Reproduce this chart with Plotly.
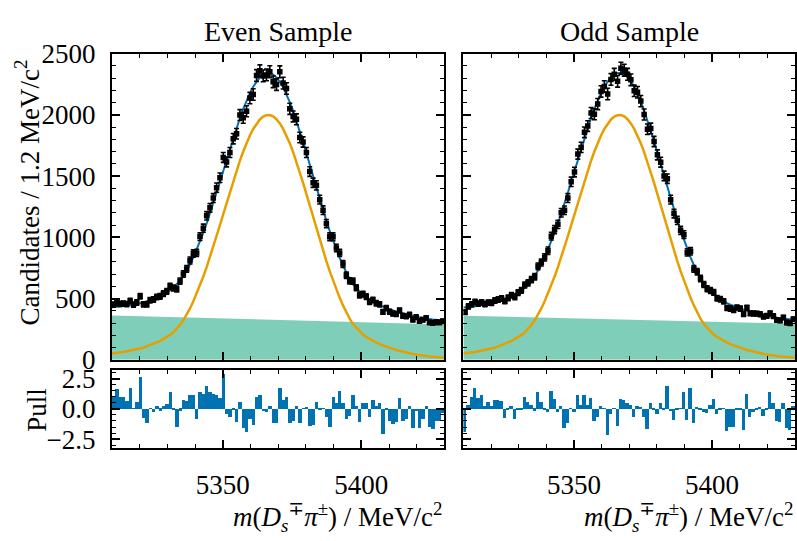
import numpy as np
import plotly.graph_objects as go

# ---------------- data ----------------
mass_lo, mass_hi, n_bins = 5310.0, 5430.0, 100
bin_width = (mass_hi - mass_lo) / n_bins
bin_centers = mass_lo + bin_width * (np.arange(n_bins) + 0.5)

even_counts = [450, 465, 456, 459, 455, 481, 451, 468, 519, 453,
               452, 487, 492, 513, 518, 540, 559, 600, 586, 579,
               643, 701, 742, 811, 868, 873, 1006, 1075, 1176, 1241,
               1321, 1406, 1487, 1653, 1616, 1693, 1806, 1846, 1999, 1977,
               2030, 2138, 2167, 2322, 2360, 2319, 2327, 2353, 2271, 2248,
               2352, 2260, 2216, 2050, 1988, 1964, 1816, 1779, 1693, 1537,
               1446, 1425, 1308, 1222, 1113, 1005, 1005, 913, 873, 782,
               690, 644, 643, 589, 528, 537, 516, 474, 488, 462,
               453, 391, 422, 392, 377, 373, 402, 359, 355, 368,
               328, 348, 317, 326, 341, 305, 300, 307, 305, 314]

odd_counts = [389, 436, 453, 473, 459, 469, 454, 467, 466, 484,
              493, 500, 479, 506, 527, 514, 549, 567, 611, 629,
              655, 679, 763, 794, 836, 891, 1010, 1063, 1106, 1201,
              1221, 1321, 1454, 1533, 1680, 1735, 1858, 1909, 2016, 2005,
              2089, 2192, 2232, 2171, 2290, 2332, 2275, 2382, 2366, 2332,
              2287, 2197, 2185, 2113, 2004, 1883, 1890, 1783, 1674, 1614,
              1502, 1479, 1308, 1194, 1139, 1057, 1022, 877, 886, 742,
              719, 664, 615, 580, 566, 550, 502, 494, 477, 423,
              418, 406, 427, 418, 374, 425, 379, 378, 377, 372,
              353, 359, 379, 356, 325, 320, 345, 304, 298, 331]

even_pull = [1.0, 1.6, 1.0, 1.0, 0.6, 1.7, 0.05, 0.55, 2.65, -0.75,
             -1.2, 0.05, -0.25, 0.2, -0.15, 0.2, 0.4, 1.4, -0.1, -1.5,
             -0.15, 0.7, 0.65, 1.15, 1.1, -0.85, 1.35, 1.2, 1.9, 1.4,
             1.25, 1.15, 0.9, 2.85, -0.4, -0.7, -0.1, -1.1, 0.55, -1.6,
             -1.9, -0.85, -1.35, 1.0, 1.1, -0.2, -0.3, 0.25, -1.2, -1.2,
             1.7, 0.75, 1.0, -1.2, -1.0, 0.25, -1.2, 0.02, 0.15, -1.4,
             -1.35, 0.55, -0.1, -0.02, -0.65, -1.5, 1.0, 0.45, 1.45, 0.45,
             -0.85, -0.6, 1.1, 0.2, -1.1, 0.45, 0.45, -0.7, 0.75, 0.2,
             0.45, -2.05, -0.05, -1.0, -1.3, -1.1, 0.85, -1.0, -0.85, 0.2,
             -1.6, -0.2, -1.6, -0.85, 0.2, -1.55, -1.65, -1.05, -1.0, -0.35]

odd_pull = [-1.9, 0.3, 0.95, 1.7, 0.85, 1.15, 0.2, 0.55, 0.2, 0.75,
            0.75, 0.65, -0.8, -0.1, 0.25, -0.85, -0.05, -0.05, 0.95, 0.55,
            0.3, -0.15, 1.4, 0.55, -0.05, -0.25, 1.45, 0.8, -0.25, 0.2,
            -1.6, -1.2, 0.05, -0.25, 1.15, 0.3, 1.1, 0.3, 0.9, -1.0,
            -0.65, 0.25, 0.05, -2.2, -0.4, 0.05, -1.4, 0.8, 0.7, 0.5,
            0.3, -0.65, 0.25, 0.1, -0.7, -1.65, 0.45, -0.05, -0.4, 0.45,
            -0.05, 1.9, -0.2, -0.9, -0.1, 0.05, 1.4, -0.9, 1.7, -1.15,
            0.1, -0.05, -0.25, -0.35, 0.3, 0.8, -0.4, -0.1, 0.05, -1.85,
            -1.5, -1.55, -0.1, -0.05, -1.75, 1.25, -0.65, -0.3, -0.1, 0.1,
            -0.6, -0.05, 1.4, 0.45, -1.05, -1.1, 0.5, -1.6, -1.75, 0.2]

# signal fit component at the bin centres (plus values at the range edges)
signal_edges = [52, 16]
signal_curve = [53, 56, 60, 64, 69, 73.5, 79, 85, 92, 99,
                108.5, 118.6, 129.6, 141.7, 155, 169, 185, 203, 225, 253,
                285, 322, 365, 419, 477, 540, 607, 680, 757, 838,
                923, 1010, 1100, 1190, 1281, 1371, 1460, 1545, 1626, 1701,
                1770, 1832, 1885, 1929, 1963, 1986, 1998, 1999, 1988, 1965,
                1931, 1886, 1832, 1768, 1696, 1617, 1533, 1445, 1353, 1260,
                1166, 1073, 981, 892, 806, 724, 646, 573, 506, 444,
                387, 335, 293, 261, 232, 206, 185.5, 169, 153, 140,
                127, 116, 106, 97, 88.6, 80, 72.7, 65.7, 59.4, 53.2,
                47.8, 42.9, 37.6, 33.6, 29.9, 26.6, 23.6, 21, 18.9, 17]

# linear combinatorial background at the range edges
bkg_even = [362, 288]
bkg_odd = [360, 295]
other_level = 15  # small extra component included in the total fit only

x_ticks = [5350, 5400]
panel_titles = ["Even Sample", "Odd Sample"]

# ---------------- styling ----------------
FONT = "Liberation Serif, DejaVu Serif, serif"
FS = 27
C_TOTAL = "#0072B2"
C_SIG = "#E69F00"
C_BKG = "rgba(0,158,115,0.5)"
C_PULL = "#0072B2"

W, H = 797, 541
col_px = [(112, 445), (464, 796)]
top_px = (41, 365)
pull_px = (376, 458)


def xd(a, b):
    return [a / W, b / W]


def yd(t, b):
    return [1 - b / H, 1 - t / H]


fig = go.Figure()
layout = dict(
    width=W, height=H, margin=dict(l=0, r=0, t=0, b=0),
    paper_bgcolor="white", plot_bgcolor="white",
    showlegend=False, bargap=0,
    font=dict(family=FONT, size=FS, color="black"),
)

axis_common = dict(
    showline=True, linecolor="black", linewidth=2, mirror="allticks",
    ticks="inside", ticklen=8, tickwidth=1.5, tickcolor="black",
    showgrid=False, zeroline=False,
    tickfont=dict(family=FONT, size=FS, color="black"),
)

samples = [(even_counts, even_pull, bkg_even), (odd_counts, odd_pull, bkg_odd)]
curve_x = np.concatenate([[mass_lo], bin_centers, [mass_hi]])
sig_full = np.array([signal_edges[0]] + signal_curve + [signal_edges[1]])

for k, (counts, pulls, bkg) in enumerate(samples):
    xa_top = f"x{2*k+1}"
    ya_top = f"y{2*k+1}"
    xa_pull = f"x{2*k+2}"
    ya_pull = f"y{2*k+2}"
    counts = np.array(counts, dtype=float)
    bkg_curve = np.interp(curve_x, [mass_lo, mass_hi], bkg)
    total_curve = bkg_curve + sig_full + other_level

    fig.add_trace(go.Scatter(x=[mass_lo, mass_hi], y=bkg, mode="lines",
                             line=dict(width=0, color=C_BKG), fill="tozeroy",
                             fillcolor=C_BKG, xaxis=xa_top, yaxis=ya_top,
                             hoverinfo="skip"))
    fig.add_trace(go.Scatter(x=curve_x, y=sig_full, mode="lines",
                             line=dict(width=2.5, color=C_SIG),
                             xaxis=xa_top, yaxis=ya_top))
    fig.add_trace(go.Scatter(x=curve_x, y=total_curve, mode="lines",
                             line=dict(width=2, color=C_TOTAL),
                             xaxis=xa_top, yaxis=ya_top))
    fig.add_trace(go.Scatter(x=bin_centers, y=counts, mode="markers",
                             marker=dict(symbol="square", size=5.5, color="black"),
                             error_y=dict(type="data", array=np.sqrt(counts),
                                          color="black", thickness=1.6, width=2.5),
                             xaxis=xa_top, yaxis=ya_top))
    fig.add_trace(go.Bar(x=bin_centers, y=pulls, width=bin_width,
                         marker=dict(color=C_PULL, line=dict(width=0)),
                         xaxis=xa_pull, yaxis=ya_pull))

    a, b = col_px[k]
    n1 = "" if k == 0 else str(2 * k + 1)
    n2 = str(2 * k + 2)
    layout[f"xaxis{n1}"] = dict(axis_common, domain=xd(a, b), range=[mass_lo, mass_hi],
                                tickvals=x_ticks, showticklabels=False,
                                minor=dict(dtick=10, tick0=5300, ticks="inside", ticklen=4,
                                           tickwidth=1.2, tickcolor="black"),
                                anchor=f"y{n1}")
    layout[f"yaxis{n1}"] = dict(axis_common, domain=yd(*top_px), range=[0, 2500],
                                dtick=500, tick0=0, showticklabels=(k == 0),
                                ticklabelstandoff=9,
                                minor=dict(dtick=100, ticks="inside", ticklen=4,
                                           tickwidth=1.2, tickcolor="black"),
                                anchor=f"x{n1}")
    layout[f"xaxis{n2}"] = dict(axis_common, domain=xd(a, b), range=[mass_lo, mass_hi],
                                tickvals=x_ticks, showticklabels=True,
                                ticklabelstandoff=12,
                                minor=dict(dtick=10, tick0=5300, ticks="inside", ticklen=4,
                                           tickwidth=1.2, tickcolor="black"),
                                anchor=f"y{n2}")
    layout[f"yaxis{n2}"] = dict(axis_common, domain=yd(*pull_px), range=[-3.2, 3.2],
                                tickvals=[-2.5, 0, 2.5], tickformat=".1f",
                                showticklabels=(k == 0), ticklabelstandoff=9,
                                minor=dict(dtick=0.5, tick0=0, ticks="inside", ticklen=4,
                                           tickwidth=1.2, tickcolor="black"),
                                anchor=f"x{n2}")

fig.update_layout(**layout)

x_title = ("<i>m</i>(<i>D</i><sub><i>s</i></sub><sup>∓</sup><i>π</i><sup>±</sup>)"
           " / MeV/c<sup>2</sup>")
annots = []
for k in range(2):
    a, b = col_px[k]
    annots.append(dict(text=panel_titles[k], x=(a + b) / 2 / W, y=1 - 17 / H,
                       xref="paper", yref="paper", showarrow=False,
                       xanchor="center", yanchor="middle",
                       font=dict(family=FONT, size=FS + 1)))
    annots.append(dict(text=x_title, x=(b + 1) / W, y=1 - 509 / H,
                       xref="paper", yref="paper",
                       showarrow=False, xanchor="right", yanchor="top",
                       font=dict(family=FONT, size=FS)))
annots.append(dict(text="Candidates / 1.2 MeV/c<sup>2</sup>", textangle=-90,
                   x=27 / W, y=1 - 188 / H, xref="paper", yref="paper",
                   showarrow=False, xanchor="center", yanchor="middle",
                   font=dict(family=FONT, size=FS)))
annots.append(dict(text="Pull", textangle=-90, x=37 / W, y=1 - 418 / H,
                   xref="paper", yref="paper", showarrow=False,
                   xanchor="center", yanchor="middle",
                   font=dict(family=FONT, size=FS)))
fig.update_layout(annotations=annots)

fig.write_html("out.html")
